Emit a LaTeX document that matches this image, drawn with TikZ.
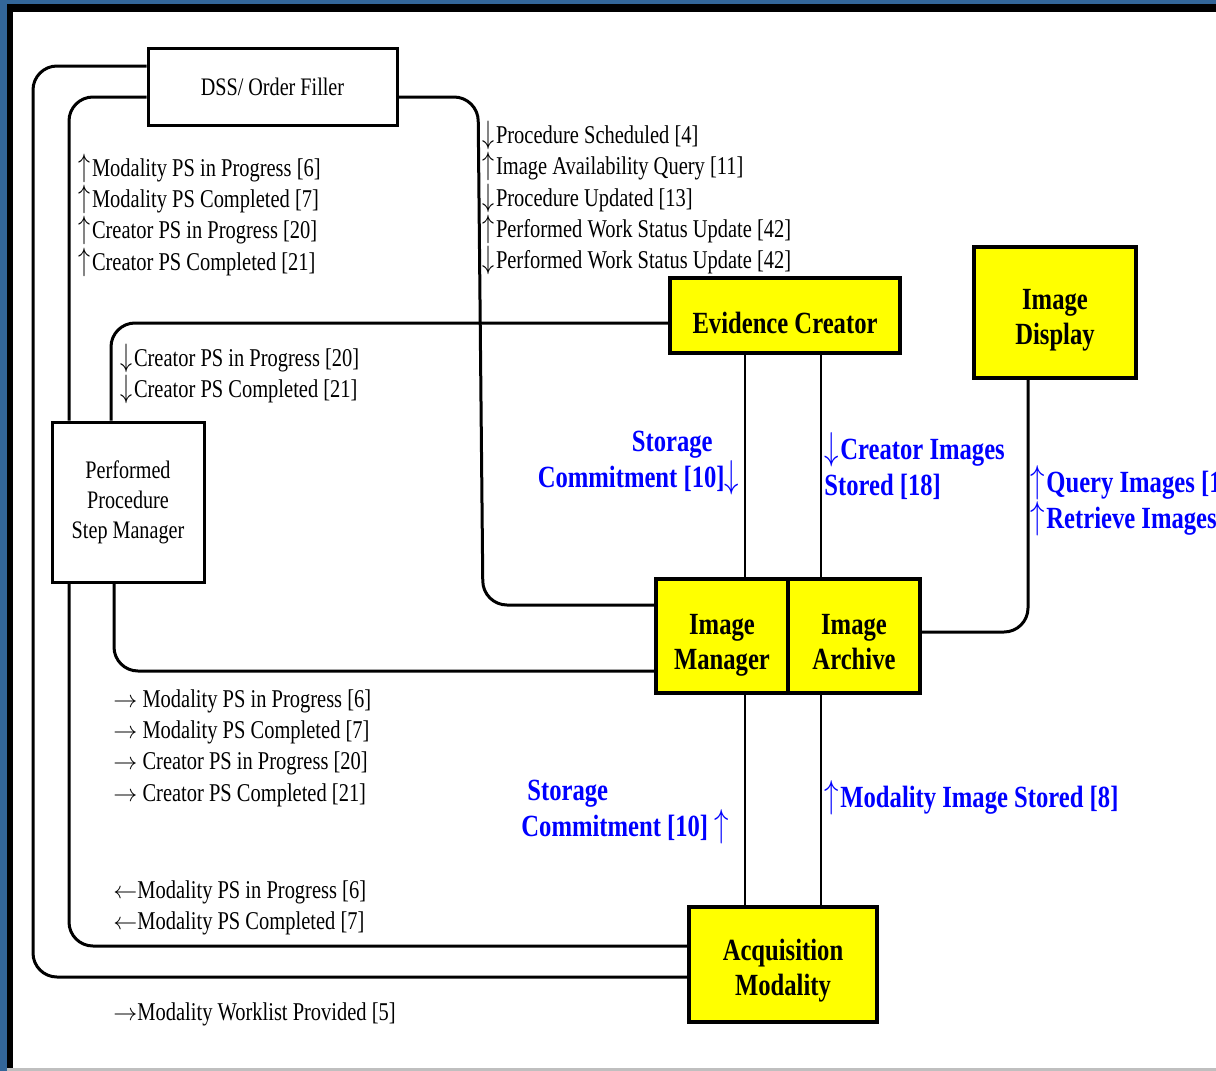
\documentclass[tikz,border=0pt]{standalone}
\usepackage{fontspec}
\usepackage{graphicx}
\setmainfont[FakeStretch=0.8]{Liberation Serif}
\definecolor{bgblue}{RGB}{51,102,153}
\definecolor{lblue}{RGB}{0,0,255}
\definecolor{boxyellow}{RGB}{255,255,0}
\newcommand\ua{\scalebox{1}[1.35]{$\uparrow$}\kern0.8pt}
\newcommand\da{\scalebox{1}[1.35]{$\downarrow$}\kern0.8pt}
\newcommand\tst[1]{\rule{0pt}{#1}}
\begin{document}
\begin{tikzpicture}[x=0.5pt,y=-0.5pt,
  wbox/.style={draw,line width=1.5pt,fill=white,inner sep=0pt,align=center,font=\fontsize{12.6}{15}\selectfont},
  ybox/.style={draw,line width=2pt,fill=boxyellow,inner sep=0pt,align=center,font=\fontsize{15.4}{17.5}\selectfont\bfseries},
  conn/.style={line width=1.5pt,rounded corners=12pt},
  vconn/.style={line width=1.3pt},
  msg/.style={inner sep=0pt,anchor=west,align=left,font=\fontsize{12.8}{15.65}\selectfont},
  bmsg/.style={inner sep=0pt,anchor=west,align=left,text=lblue,font=\fontsize{15.4}{18}\selectfont\bfseries}]
\clip (0,0) rectangle (1216,1071);
\fill[bgblue] (0,0) rectangle (1216,1071);
\fill[black] (7,4) rectangle (1216,1068);
\fill[white] (13,12) rectangle (1216,1068);
\fill[gray!50] (7,1068) rectangle (1216,1071);
% helper coordinates
\coordinate (h66) at (0,66);
\coordinate (h97) at (0,97);
\coordinate (h323) at (0,323);
\coordinate (h605) at (0,605);
\coordinate (h632) at (0,632);
\coordinate (h671) at (0,671);
\coordinate (h946) at (0,946);
\coordinate (h977) at (0,977);
\coordinate (x69) at (69,0);
\coordinate (x111) at (111,0);
\coordinate (x114) at (114,0);
\coordinate (x745) at (745,0);
\coordinate (x821) at (821,0);
\coordinate (x1028) at (1028,0);
% nodes
\node[wbox,minimum width=124.5pt,minimum height=38.5pt] (dss) at (272.5,86.5) {DSS/ Order Filler};
\node[wbox,minimum width=76pt,minimum height=80pt] (ppsm) at (128,502) {Performed\\Procedure\\Step Manager};
\node[ybox,minimum width=115pt,minimum height=37.5pt] (ec) at (785,315.5) {\tst{22.75pt}Evidence Creator\strut};
\node[ybox,minimum width=81pt,minimum height=65.5pt] (id) at (1055,312.5) {\tst{20pt}Image\strut\\Display\strut};
\node[ybox,minimum width=66pt,minimum height=57pt] (im) at (722,636) {\tst{21pt}Image\strut\\Manager\strut};
\node[ybox,minimum width=66pt,minimum height=57pt] (ia) at (854,636) {\tst{21pt}Image\strut\\Archive\strut};
\node[ybox,minimum width=94pt,minimum height=57.5pt] (am) at (783,964.5) {\tst{19pt}Acquisition\strut\\Modality\strut};
% connectors
\draw[conn] (dss.west |- h66) -- (33,66) -- (33,977) -- (am.west |- h977);
\draw[conn] (dss.west |- h97) -- (69,97) -- (ppsm.north -| x69);
\draw[conn] (ppsm.south -| x69) -- (69,946) -- (am.west |- h946);
\draw[conn] (dss.east |- h97) -- (478,97) -- (483,605) -- (im.west |- h605);
\draw[conn] (ppsm.north -| x111) -- (111,323) -- (ec.west |- h323);
\draw[conn] (ppsm.south -| x114) -- (114,671) -- (im.west |- h671);
\draw[vconn] (ec.south -| x745) -- (im.north -| x745);
\draw[vconn] (im.south -| x745) -- (am.north -| x745);
\draw[vconn] (ec.south -| x821) -- (ia.north -| x821);
\draw[vconn] (ia.south -| x821) -- (am.north -| x821);
\draw[conn] (id.south -| x1028) -- (1028,632) -- (ia.east |- h632);
% black labels
\node[msg] (t1) at (78,215) {\ua Modality PS in Progress [6]\\\ua Modality PS Completed [7]\\\ua Creator PS in Progress [20]\\\ua Creator PS Completed [21]};
\node[msg] (t2) at (482,198) {\da Procedure Scheduled [4]\\\ua Image Availability Query [11]\\\da Procedure Updated [13]\\\ua Performed Work Status Update [42]\\\da Performed Work Status Update [42]};
\node[msg] (t3) at (120,374) {\da Creator PS in Progress [20]\\\da Creator PS Completed [21]};
\node[msg] (t4) at (113,748) {$\rightarrow$ Modality PS in Progress [6]\\$\rightarrow$ Modality PS Completed [7]\\$\rightarrow$ Creator PS in Progress [20]\\$\rightarrow$ Creator PS Completed [21]};
\node[msg] (t5) at (113,908) {$\leftarrow$Modality PS in Progress [6]\\$\leftarrow$Modality PS Completed [7]};
\node[msg] (t6) at (113,1014) {$\rightarrow$Modality Worklist Provided [5]};
% blue labels
\node[bmsg,anchor=east,align=right] (b1) at (741,463) {Storage\hspace*{14pt}\\Commitment [10]\da};
\node[bmsg] (b2) at (824,466) {\da Creator Images\\Stored [18]};
\node[bmsg] (b3) at (1030,501) {\ua Query Images [14]\\\ua Retrieve Images [16]};
\node[bmsg] (b4) at (521,812) {\hspace*{3pt}Storage\\Commitment [10] \ua};
\node[bmsg] (b5) at (824,798) {\ua Modality Image Stored [8]};
\end{tikzpicture}
\end{document}
